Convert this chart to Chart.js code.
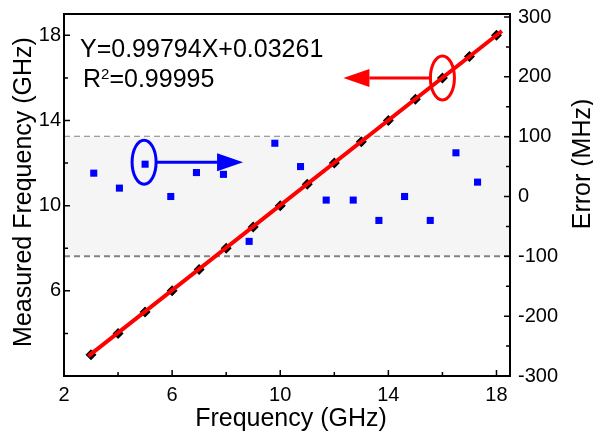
<!DOCTYPE html>
<html>
<head>
<meta charset="utf-8">
<script src="https://cdn.jsdelivr.net/npm/chart.js@4.4.1/dist/chart.umd.min.js"></script>
<style>
  html, body { margin: 0; padding: 0; background: #fff; }
  #wrap { width: 593px; height: 432px; }
</style>
</head>
<body>
<div id="wrap"><canvas id="chart" width="593" height="432"></canvas></div>
<script>
// measured vs. set frequency (GHz)
const setFreq = [3, 4, 5, 6, 7, 8, 9, 10, 11, 12, 13, 14, 15, 16, 17, 18];
const measFreq = [3.0, 4.0, 5.0, 6.0, 7.0, 8.0, 9.0, 10.0, 11.0, 12.0, 13.0, 14.0, 15.0, 16.0, 17.0, 18.0];

// measurement error (MHz, right axis)
const errFreq = [3.1, 4.05, 5.0, 5.95, 6.9, 7.9, 8.85, 9.8, 10.75, 11.7, 12.7, 13.65, 14.6, 15.55, 16.5, 17.3];
const errMHz = [39, 14, 54, 0, 40, 37, -75, 89, 50, -6, -6, -40, 0, -40, 73, 24];

// linear fit end points
const fitX = [2.9, 18.2];
const fitY = [2.93, 18.2];

// +-100 MHz band
const bandX = [2, 18.5];
const bandTop = [100, 100];
const bandBottom = [-100, -100];

// ticks
const xTicks = [2, 4, 6, 8, 10, 12, 14, 16, 18];
const xLabels = [2, 6, 10, 14, 18];
const yTicks = [4, 6, 8, 10, 12, 14, 16, 18];
const yLabels = [6, 10, 14, 18];
const errTicks = [-300, -250, -200, -150, -100, -50, 0, 50, 100, 150, 200, 250, 300];
const errLabels = [-300, -200, -100, 0, 100, 200, 300];

const FONT = 'Liberation Sans, Arial, sans-serif';
const pts = (xs, ys) => xs.map((x, i) => ({ x: x, y: ys[i] }));

function arrow(ctx, x1, y, x2, color) {
  const dir = x2 > x1 ? 1 : -1;
  const headLen = 26;
  ctx.strokeStyle = color;
  ctx.fillStyle = color;
  ctx.lineWidth = 3;
  ctx.beginPath();
  ctx.moveTo(x1, y);
  ctx.lineTo(x2 - dir * headLen, y);
  ctx.stroke();
  ctx.beginPath();
  ctx.moveTo(x2, y);
  ctx.lineTo(x2 - dir * headLen, y - 9);
  ctx.lineTo(x2 - dir * headLen, y + 9);
  ctx.closePath();
  ctx.fill();
}

function ellipse(ctx, cx, cy, color) {
  ctx.strokeStyle = color;
  ctx.lineWidth = 3;
  ctx.beginPath();
  ctx.ellipse(cx, cy, 12, 22, 0, 0, Math.PI * 2);
  ctx.stroke();
}

// no extra room for half labels, the plot box is fixed
function fixBox(s, w, h) {
  if (w) s.width = w;
  if (h) s.height = h;
  s.paddingTop = 0;
  s.paddingBottom = 0;
  s.paddingLeft = 0;
  s.paddingRight = 0;
}

const decor = {
  id: 'decor',
  afterDraw(chart) {
    const ctx = chart.ctx;
    const a = chart.chartArea;
    const sx = chart.scales.x, sy = chart.scales.y, se = chart.scales.y2;
    ctx.save();

    // frame
    ctx.strokeStyle = '#000';
    ctx.lineWidth = 2;
    ctx.strokeRect(a.left, a.top, a.right - a.left, a.bottom - a.top);

    // inward ticks
    ctx.lineWidth = 1.5;
    ctx.beginPath();
    xTicks.forEach(v => {
      const p = sx.getPixelForValue(v);
      const l = xLabels.includes(v) ? 6 : 4;
      ctx.moveTo(p, a.bottom); ctx.lineTo(p, a.bottom - l);
    });
    yTicks.forEach(v => {
      const p = sy.getPixelForValue(v);
      const l = yLabels.includes(v) ? 6 : 4;
      ctx.moveTo(a.left, p); ctx.lineTo(a.left + l, p);
    });
    errTicks.forEach(v => {
      const p = se.getPixelForValue(v);
      const l = errLabels.includes(v) ? 6 : 4;
      ctx.moveTo(a.right, p); ctx.lineTo(a.right - l, p);
    });
    ctx.stroke();

    // axis titles
    ctx.fillStyle = '#000';
    ctx.font = '25px ' + FONT;
    ctx.textAlign = 'center';
    ctx.textBaseline = 'alphabetic';
    ctx.fillText('Frequency (GHz)', (a.left + a.right) / 2 + 4, 426);
    ctx.save();
    ctx.translate(31, 192);
    ctx.rotate(-Math.PI / 2);
    ctx.fillText('Measured Frequency (GHz)', 0, 0);
    ctx.restore();
    ctx.save();
    ctx.translate(590, 164);
    ctx.rotate(-Math.PI / 2);
    ctx.fillText('Error (MHz)', 0, 0);
    ctx.restore();

    // fit equation
    ctx.textAlign = 'left';
    ctx.fillText('Y=0.99794X+0.03261', 80, 57);
    ctx.fillText('R', 83, 87);
    const rw = ctx.measureText('R').width;
    ctx.font = '15px ' + FONT;
    ctx.fillText('2', 83 + rw, 79);
    const sw = ctx.measureText('2').width;
    ctx.font = '25px ' + FONT;
    ctx.fillText('=0.99995', 83 + rw + sw, 87);

    // markers: red -> left axis, blue -> right axis
    const rcx = sx.getPixelForValue(setFreq[13]);
    const rcy = sy.getPixelForValue(measFreq[13]);
    ellipse(ctx, rcx, rcy, '#ff0000');
    arrow(ctx, rcx - 11, rcy, rcx - 99, '#ff0000');

    const bcx = sx.getPixelForValue(errFreq[2]) - 1;
    const bcy = se.getPixelForValue(errMHz[2]) - 2;
    ellipse(ctx, bcx, bcy, '#0000ff');
    arrow(ctx, bcx + 12, bcy, bcx + 99, '#0000ff');

    ctx.restore();
  }
};

new Chart(document.getElementById('chart'), {
  type: 'scatter',
  data: {
    datasets: [
      {
        data: pts(bandX, bandTop),
        yAxisID: 'y2',
        showLine: true,
        borderColor: '#828282',
        borderWidth: 2,
        borderDash: [6, 4],
        pointRadius: 0,
        fill: false,
        order: 5
      },
      {
        data: pts(bandX, bandBottom),
        yAxisID: 'y2',
        showLine: true,
        borderColor: '#828282',
        borderWidth: 2,
        borderDash: [6, 4],
        pointRadius: 0,
        fill: '-1',
        backgroundColor: '#f5f5f5',
        order: 4
      },
      {
        data: pts(errFreq, errMHz),
        yAxisID: 'y2',
        pointStyle: 'rect',
        pointRadius: 5,
        backgroundColor: '#0000ff',
        borderWidth: 0,
        order: 3
      },
      {
        data: pts(setFreq, measFreq),
        yAxisID: 'y',
        pointStyle: 'rectRot',
        pointRadius: 5.5,
        backgroundColor: '#000',
        borderWidth: 0,
        order: 2
      },
      {
        data: pts(fitX, fitY),
        yAxisID: 'y',
        showLine: true,
        borderColor: '#ff0000',
        borderWidth: 4,
        pointRadius: 0,
        order: 1
      }
    ]
  },
  options: {
    responsive: false,
    animation: false,
    layout: { padding: { top: 14, left: 0, right: 0, bottom: 0 } },
    plugins: { legend: { display: false }, tooltip: { enabled: false } },
    scales: {
      x: {
        type: 'linear',
        min: 2,
        max: 18.5,
        grid: { display: false, drawTicks: false },
        border: { display: false },
        afterBuildTicks: s => { s.ticks = xTicks.map(v => ({ value: v })); },
        afterFit: s => fixBox(s, 0, 56),
        ticks: {
          autoSkip: false,
          maxRotation: 0,
          padding: 7,
          color: '#000',
          font: { family: FONT, size: 20 },
          callback: v => xLabels.includes(v) ? String(v) : ''
        }
      },
      y: {
        type: 'linear',
        position: 'left',
        min: 2,
        max: 19,
        grid: { display: false, drawTicks: false },
        border: { display: false },
        afterBuildTicks: s => { s.ticks = yTicks.map(v => ({ value: v })); },
        afterFit: s => fixBox(s, 64, 0),
        ticks: {
          autoSkip: false,
          padding: 3,
          color: '#000',
          font: { family: FONT, size: 20 },
          callback: v => yLabels.includes(v) ? String(v) : ''
        }
      },
      y2: {
        type: 'linear',
        position: 'right',
        min: -300,
        max: 305,
        grid: { display: false, drawTicks: false },
        border: { display: false },
        afterBuildTicks: s => { s.ticks = errTicks.map(v => ({ value: v })); },
        afterFit: s => fixBox(s, 83, 0),
        ticks: {
          autoSkip: false,
          padding: 8,
          color: '#000',
          font: { family: FONT, size: 20 },
          callback: v => errLabels.includes(v) ? String(v) : ''
        }
      }
    }
  },
  plugins: [decor]
});
</script>
</body>
</html>
